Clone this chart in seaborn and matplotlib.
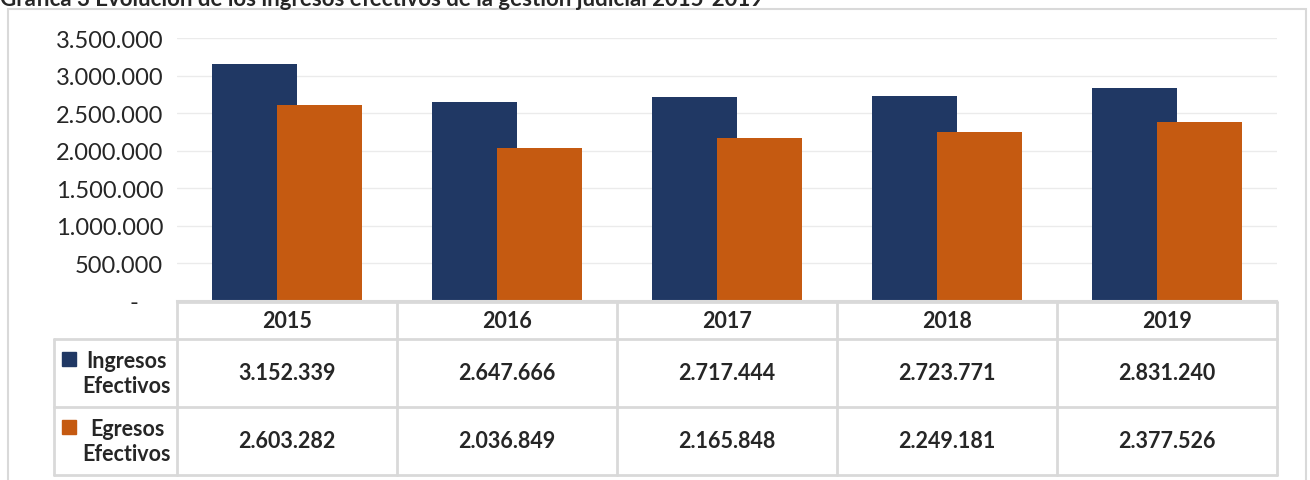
import numpy as np
import pandas as pd
import matplotlib.pyplot as plt
import matplotlib.transforms as mtransforms
from matplotlib.patches import Rectangle
from matplotlib.lines import Line2D
from matplotlib.ticker import FuncFormatter
import seaborn as sns

years = ['2015', '2016', '2017', '2018', '2019']
ingresos = [3152339, 2647666, 2717444, 2723771, 2831240]
egresos = [2603282, 2036849, 2165848, 2249181, 2377526]
series_names = ['Ingresos\nEfectivos', 'Egresos\nEfectivos']
title = 'Gráfica 3 Evolución de los ingresos efectivos de la gestión judicial 2015-2019'

blue = '#203864'
orange = '#C55A11'
grid_col = '#d9d9d9'

sns.set_style('white')
plt.rcParams['font.family'] = ['Lato', 'DejaVu Sans']

W, H = 1310, 481
fig = plt.figure(figsize=(W / 100, H / 100), dpi=100)
fig.patch.set_facecolor('white')

# outer chart border
fig.add_artist(Rectangle((8 / W, -0.05), 1298 / W, 1.05 - 10 / H, transform=fig.transFigure,
                         fill=False, edgecolor=grid_col, linewidth=1.5))
fig.text(0, 1 - 6 / H, title, fontsize=16, fontweight='bold', va='baseline', ha='left')

ax = fig.add_axes([177 / W, 1 - 302 / H, 1100 / W, 263 / H])
pos = np.arange(len(years))
sns.barplot(x=pos - 0.148, y=ingresos, native_scale=True, width=0.39, color=blue,
            saturation=1, errorbar=None, linewidth=0, ax=ax)
sns.barplot(x=pos + 0.148, y=egresos, native_scale=True, width=0.39, color=orange,
            saturation=1, errorbar=None, linewidth=0, ax=ax)
ax.set_xlim(-0.5, len(years) - 0.5)
ax.set_ylim(0, 3500000)
ax.set_yticks(np.arange(0, 3500001, 500000))
ax.yaxis.set_major_formatter(FuncFormatter(
    lambda v, p: '-    ' if v == 0 else f'{int(v):,}'.replace(',', '.')))
ax.tick_params(axis='y', length=0, pad=10, labelsize=17)
ax.set_xticks([])
ax.set_xlabel('')
ax.set_ylabel('')
ax.grid(axis='y', color='#ebebeb', linewidth=1)
ax.set_axisbelow(True)
for s in ['top', 'right', 'left']:
    ax.spines[s].set_visible(False)
ax.spines['bottom'].set_color(grid_col)
ax.spines['bottom'].set_linewidth(1.5)
ax.set_facecolor('none')

# data table under the plot
tab = fig.add_axes([0, 0, 1, 1], zorder=-1)
tab.set_xlim(0, W)
tab.set_ylim(H, 0)
tab.axis('off')
tr = mtransforms.blended_transform_factory(ax.transData, tab.transData)

lw = 2
y_head, y_r1, y_r2, y_end = 303, 340, 408, 476
tab.add_line(Line2D([177, 1277], [y_head, y_head], color=grid_col, lw=lw))
for y in [y_r1, y_r2, y_end]:
    tab.add_line(Line2D([54, 1277], [y, y], color=grid_col, lw=lw))
tab.add_line(Line2D([54, 54], [y_r1, y_end], color=grid_col, lw=lw))
for i in range(len(years) + 1):
    tab.add_line(Line2D([i - 0.5, i - 0.5], [y_head, y_end], transform=tr, color=grid_col, lw=lw))

fs = 15.5
for i, yr in enumerate(years):
    tab.text(i, (y_head + y_r1) / 2, yr, transform=tr, ha='center', va='center',
             fontsize=fs, fontweight='bold')
    tab.text(i, (y_r1 + y_r2) / 2, f'{ingresos[i]:,}'.replace(',', '.'), transform=tr,
             ha='center', va='center', fontsize=fs, fontweight='bold')
    tab.text(i, (y_r2 + y_end) / 2, f'{egresos[i]:,}'.replace(',', '.'), transform=tr,
             ha='center', va='center', fontsize=fs, fontweight='bold')

for name, col, yc in zip(series_names, [blue, orange], [(y_r1 + y_r2) / 2, (y_r2 + y_end) / 2]):
    tab.add_patch(Rectangle((62, yc - 21), 14, 14, color=col))
    tab.text(127, yc, name, ha='center', va='center', multialignment='center',
             fontsize=fs, fontweight='bold', linespacing=1.2)

fig.savefig('out.png', dpi=100)
